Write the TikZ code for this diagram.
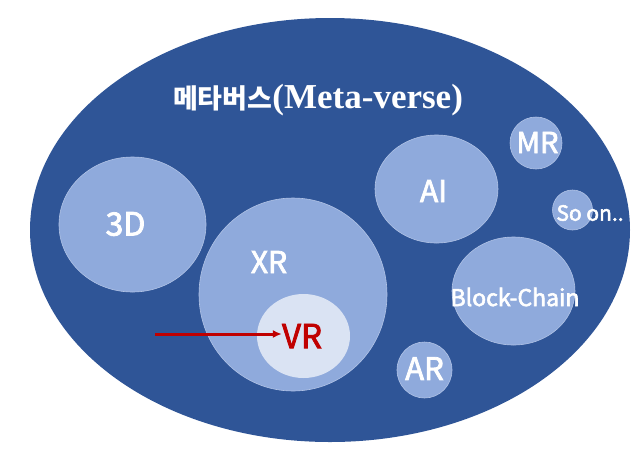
\documentclass[tikz,border=0pt]{standalone}
\usepackage{fontspec}
\setmainfont{Noto Sans CJK KR}
\newfontfamily\labelfont{Noto Sans CJK KR}[FakeBold=2.5]
\newfontfamily\titleserif{Liberation Serif}
\usetikzlibrary{positioning,arrows.meta,shapes.geometric}
\definecolor{metablue}{HTML}{2F5597}
\definecolor{techblue}{HTML}{8FAADC}
\definecolor{vrblue}{HTML}{DAE3F3}
\definecolor{vrred}{HTML}{C00000}
\newcommand{\fsz}[1]{\fontsize{#1}{#1}\selectfont}
\tikzset{
  world/.style={ellipse, fill=metablue, minimum width=600pt, minimum height=424pt, inner sep=0pt},
  tech/.style={ellipse, fill=techblue, draw=techblue!70!white, line width=0.6pt, inner sep=0pt},
  techinner/.style={ellipse, fill=vrblue, inner sep=0pt},
  techlabel/.style={text=white, inner sep=0pt},
  pointer/.style={-{Latex[length=9pt,width=8pt]}, vrred, line width=3pt}
}
\begin{document}
\begin{tikzpicture}[x=1pt, y=-1pt]
  \useasboundingbox (0,0) rectangle (632,448);
  \node[world] (meta) at (330,230) {};
  \node[techlabel, font=\fsz{27}\bfseries] (title) at (318,100) {메타버스{\titleserif\fsz{35}(Meta-verse)}};
  % circles
  \node[tech, minimum width=147pt, minimum height=135pt] (c3d) at (132.5,224.5) {};
  \node[tech, minimum width=188pt, minimum height=193pt] (cxr) at (293,294.5) {};
  \node[techinner, minimum width=93pt, minimum height=84pt] (cvr) at (303.5,336) {};
  \node[tech, minimum width=123pt, minimum height=108pt] (cai) at (436.5,189) {};
  \node[tech, minimum width=52pt, minimum height=52pt] (cmr) at (536,143) {};
  \node[tech, minimum width=40pt, minimum height=40pt] (cso) at (572.5,210) {};
  \node[tech, minimum width=123pt, minimum height=108pt] (cbc) at (513.5,291) {};
  \node[tech, minimum width=55pt, minimum height=56pt] (car) at (424.5,370) {};
  % labels
  \node[techlabel, font=\labelfont\fsz{32}] (l3d) at (125.5,224) {3D};
  \node[techlabel, font=\labelfont\fsz{30}] (lxr) at (269,262) {XR};
  \node[techlabel, font=\labelfont\fsz{33}, text=vrred] (lvr) at (302,336) {VR};
  \node[techlabel, font=\labelfont\fsz{30}] (lai) at (433.5,191) {AI};
  \node[techlabel, font=\labelfont\fsz{29}] (lmr) at (537.5,142.5) {MR};
  \node[techlabel, font=\labelfont\fsz{21}] (lso) at (590,213) {So on..};
  \node[techlabel, font=\labelfont\fsz{23}] (lbc) at (515,297) {Block-Chain};
  \node[techlabel, font=\labelfont\fsz{31}] (lar) at (424.5,368.5) {AR};
  \coordinate (ptr) at (155,334);
  \draw[pointer] (ptr) -- (lvr.west |- ptr);
\end{tikzpicture}
\end{document}
